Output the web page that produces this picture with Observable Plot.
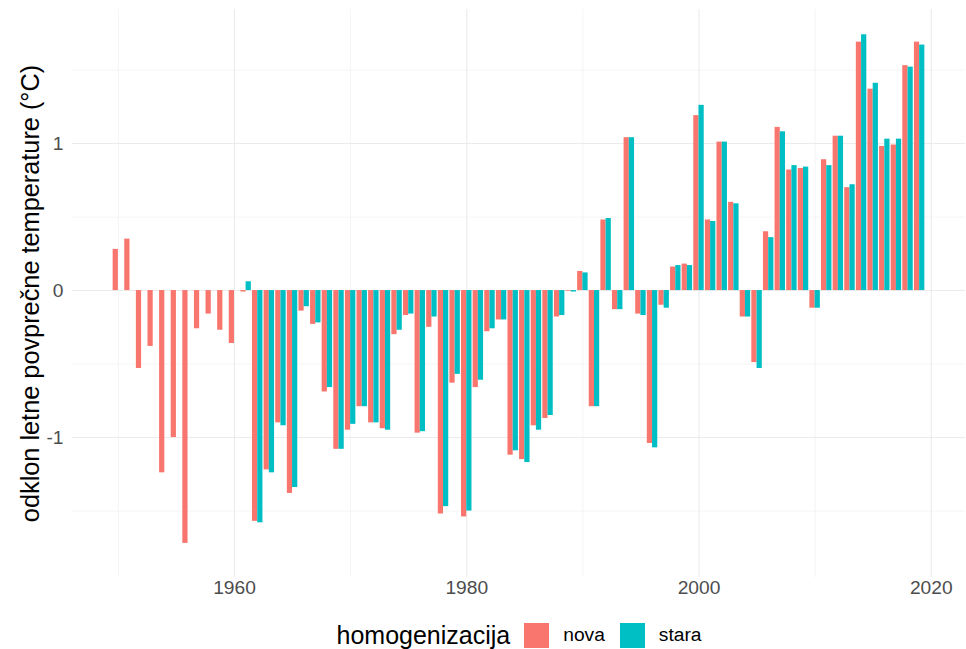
<!DOCTYPE html>
<html>
<head>
<meta charset="utf-8">
<script src="https://cdn.jsdelivr.net/npm/d3@7"></script>
<script src="https://cdn.jsdelivr.net/npm/@observablehq/plot@0.6"></script>
<style>
  html, body { margin: 0; padding: 0; background: #ffffff; }
  body { width: 966px; height: 649px; overflow: hidden; font-family: "Liberation Sans", Arial, sans-serif; }
  #legend { position: relative; height: 49px; width: 966px; }
  #legend .inner { position: absolute; left: 72px; width: 894px; top: 22px; height: 26px;
    display: flex; justify-content: center; align-items: center; }
  #legend .title { font-size: 25px; color: #000; margin-right: 14px; }
  #legend .key { width: 25px; height: 25px; }
  #legend .lab { font-size: 19.2px; color: #000; margin-left: 14px; margin-right: 15px; }
  #legend .lab:last-child { margin-right: 0; }
</style>
</head>
<body>
<div id="chart"></div>
<div id="legend"></div>
<script>
const years = [1950,1951,1952,1953,1954,1955,1956,1957,1958,1959,
  1960,1961,1962,1963,1964,1965,1966,1967,1968,1969,
  1970,1971,1972,1973,1974,1975,1976,1977,1978,1979,
  1980,1981,1982,1983,1984,1985,1986,1987,1988,1989,
  1990,1991,1992,1993,1994,1995,1996,1997,1998,1999,
  2000,2001,2002,2003,2004,2005,2006,2007,2008,2009,
  2010,2011,2012,2013,2014,2015,2016,2017,2018,2019];

const nova = [0.28,0.35,-0.53,-0.38,-1.24,-1.00,-1.72,-0.26,-0.16,-0.27,
  -0.36,-0.01,-1.57,-1.22,-0.90,-1.38,-0.14,-0.23,-0.69,-1.08,
  -0.95,-0.79,-0.90,-0.94,-0.30,-0.17,-0.97,-0.25,-1.52,-0.63,
  -1.54,-0.66,-0.28,-0.20,-1.12,-1.15,-0.92,-0.87,-0.18,-0.005,
  0.13,-0.79,0.48,-0.13,1.04,-0.16,-1.04,-0.10,0.16,0.18,
  1.19,0.48,1.01,0.60,-0.18,-0.49,0.40,1.11,0.82,0.83,
  -0.12,0.89,1.05,0.70,1.69,1.37,0.98,0.99,1.53,1.69];

const stara = [null,null,null,null,null,null,null,null,null,null,
  null,0.06,-1.58,-1.24,-0.92,-1.34,-0.11,-0.22,-0.66,-1.08,
  -0.91,-0.79,-0.90,-0.95,-0.27,-0.16,-0.96,-0.18,-1.47,-0.57,
  -1.50,-0.61,-0.26,-0.20,-1.09,-1.17,-0.95,-0.85,-0.17,-0.01,
  0.12,-0.79,0.49,-0.13,1.04,-0.17,-1.07,-0.12,0.17,0.17,
  1.26,0.47,1.01,0.59,-0.18,-0.53,0.36,1.08,0.85,0.84,
  -0.12,0.85,1.05,0.72,1.74,1.41,1.03,1.03,1.52,1.67];

const seriesNames = ["nova", "stara"];
const seriesColors = ["#F8766D", "#00BFC4"];
const xTicks = [1960, 1980, 2000, 2020];
const xMinor = [1950, 1970, 1990, 2010];
const yTicks = [-1, 0, 1];
const yMinor = [-1.5, -0.5, 0.5, 1.5];
const yTitle = "odklon letne povprečne temperature (°C)";
const legendTitle = "homogenizacija";

const rows = [];
years.forEach((yr, i) => {
  rows.push({year: yr, series: "nova", value: nova[i]});
  if (stara[i] != null) rows.push({year: yr, series: "stara", value: stara[i]});
});

const half = 0.45;
const chart = Plot.plot({
  width: 966,
  height: 600,
  marginLeft: 72,
  marginRight: 1,
  marginTop: 9,
  marginBottom: 23,
  style: {fontFamily: "'Liberation Sans', Arial, sans-serif", background: "#ffffff", overflow: "visible"},
  x: {domain: [1946.05, 2022.95]},
  y: {domain: [-1.952, 1.912]},
  color: {domain: seriesNames, range: seriesColors},
  marks: [
    Plot.ruleX(xMinor, {stroke: "#ebebeb", strokeWidth: 0.55}),
    Plot.ruleY(yMinor, {stroke: "#ebebeb", strokeWidth: 0.55}),
    Plot.ruleX(xTicks, {stroke: "#ebebeb", strokeWidth: 1.1}),
    Plot.ruleY(yTicks, {stroke: "#ebebeb", strokeWidth: 1.1}),
    Plot.rectY(rows, {
      x1: d => d.series === "nova" ? d.year - half : d.year,
      x2: d => d.series === "nova" ? d.year : d.year + half,
      y: "value",
      fill: "series"
    }),
    Plot.axisX(xTicks, {tickSize: 0, tickPadding: 3, fontSize: 19.2, fill: "#4d4d4d", tickFormat: d => String(d), label: null}),
    Plot.axisY(yTicks, {tickSize: 0, tickPadding: 9, fontSize: 19.2, fill: "#4d4d4d", tickFormat: d => String(d), label: null}),
    Plot.text([yTitle], {frameAnchor: "left", textAnchor: "middle", lineAnchor: "middle", rotate: -90, dx: -42, fontSize: 25.3, fill: "#000"})
  ]
});
document.getElementById("chart").appendChild(chart);

const leg = document.getElementById("legend");
const inner = document.createElement("div");
inner.className = "inner";
const t = document.createElement("span");
t.className = "title";
t.textContent = legendTitle;
inner.appendChild(t);
seriesNames.forEach((name, i) => {
  const k = document.createElement("span");
  k.className = "key";
  k.style.background = seriesColors[i];
  inner.appendChild(k);
  const l = document.createElement("span");
  l.className = "lab";
  l.textContent = name;
  inner.appendChild(l);
});
leg.appendChild(inner);
</script>
</body>
</html>
